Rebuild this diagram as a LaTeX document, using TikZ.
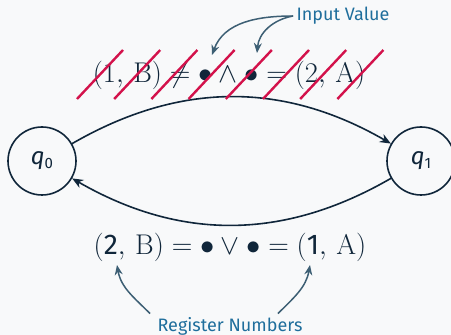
\RequirePackage{fix-cm}
\documentclass[tikz,border=0pt]{standalone}
\usepackage{fontspec}
\newfontfamily\labelfont{Fira Sans}
\usetikzlibrary{arrows.meta}

\definecolor{fondo}{RGB}{248,249,250}
\definecolor{tinta}{RGB}{16,38,58}
\definecolor{azul}{RGB}{31,110,156}
\definecolor{pizarra}{RGB}{61,95,116}
\definecolor{carmin}{RGB}{211,18,75}

\tikzset{
	estado/.style={circle, draw=tinta, line width=1.6pt, minimum size=68pt, inner sep=0pt, text=tinta},
	arista/.style={draw=tinta, line width=1.6pt, -{Stealth[length=11pt, width=9pt]}},
	nota/.style={text=azul, font=\labelfont\fontsize{18}{21}\selectfont},
	flecha/.style={draw=pizarra, line width=1.5pt, -{Stealth[length=10pt, width=8pt]}},
	tachon/.style={draw=carmin, line width=2.4pt},
	formula/.style={text=tinta, font=\fontsize{28.5}{32}\selectfont}
}

\begin{document}
\begin{tikzpicture}[x=1pt, y=1pt]

\fill[fondo] (0,0) rectangle (451,335);
\useasboundingbox (0,0) rectangle (451,335);

% Estados
\node[estado] (q0) at (42,174) {\labelfont\fontsize{24}{24}\selectfont\itshape q\upshape\raisebox{-0.25ex}{\fontsize{15}{15}\selectfont 0}};
\node[estado] (q1) at (421,174) {\labelfont\fontsize{24}{24}\selectfont\itshape q\upshape\raisebox{-0.25ex}{\fontsize{15}{15}\selectfont 1}};

\draw[arista] (q0) to[bend left=30] (q1);
\draw[arista] (q1) to[bend left=30] (q0);

% Condiciones
\node[formula] (arriba) at (229,260)
	{$(1,\, \mathrm{B}) \neq \bullet \wedge \bullet = (2,\, \mathrm{A})$};
\node[formula] (abajo) at (230,88)
	{$(\mbox{\labelfont 2},\, \mathrm{B}) = \bullet \vee \bullet = (\mbox{\labelfont 1},\, \mathrm{A})$};

% Tachones
	\foreach \i in {0, 1, ..., 7}
		\draw[tachon] (123+37.2*\i,285) -- ++(-46,-49);

% Notas
\node[nota] (valor) at (343,319) {Input Value};
\node[nota] (registros) at (230,9) {Register Numbers};

\coordinate (v1) at (212,280);
\coordinate (v2) at (257,282);
\coordinate (r1) at (117,70);
\coordinate (r2) at (310,70);

\draw[flecha] (valor.west) to[out=180, in=70] (v1);
\draw[flecha] (valor.west) to[out=190, in=85] (v2);
\draw[flecha] ([xshift=-80pt]registros.north) to[out=135, in=-80] (r1);
\draw[flecha] ([xshift=48pt]registros.north) to[out=45, in=-100] (r2);
\end{tikzpicture}
\end{document}
